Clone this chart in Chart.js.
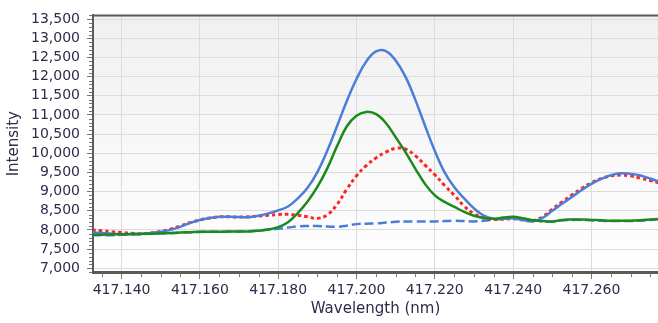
<!DOCTYPE html>
<html>
<head>
<meta charset="utf-8">
<script src="https://cdn.jsdelivr.net/npm/chart.js@4.4.0/dist/chart.umd.min.js"></script>
<style>
  html, body { margin: 0; padding: 0; background: #fff; }
  #wrap { width: 658px; height: 323px; }
</style>
</head>
<body>
<div id="wrap"><canvas id="spectrumChart" width="658" height="323"></canvas></div>
<script>
// DATA -----------------------------------------------------------------------
const wavelengths = [
    417.1325, 417.1350, 417.1375, 417.1400, 417.1425, 417.1450, 417.1475, 417.1500,
    417.1525, 417.1550, 417.1575, 417.1600, 417.1625, 417.1650, 417.1675, 417.1700,
    417.1725, 417.1750, 417.1775, 417.1800, 417.1825, 417.1850, 417.1875, 417.1900,
    417.1925, 417.1950, 417.1975, 417.2000, 417.2025, 417.2050, 417.2075, 417.2100,
    417.2125, 417.2150, 417.2175, 417.2200, 417.2225, 417.2250, 417.2275, 417.2300,
    417.2325, 417.2350, 417.2375, 417.2400, 417.2425, 417.2450, 417.2475, 417.2500,
    417.2525, 417.2550, 417.2575, 417.2600, 417.2625, 417.2650, 417.2675, 417.2700,
    417.2725, 417.2750, 417.2775
];

const blueSolid = [
    7930, 7920, 7900, 7890, 7890, 7900, 7920, 7950,
    8000, 8080, 8180, 8260, 8310, 8340, 8340, 8335,
    8330, 8370, 8430, 8510, 8610, 8820, 9100, 9510,
    10060, 10700, 11360, 11940, 12400, 12660, 12670, 12420,
    12000, 11400, 10720, 10060, 9500, 9110, 8820, 8560,
    8370, 8290, 8290, 8300, 8260, 8220, 8310, 8500,
    8680, 8860, 9040, 9200, 9330, 9430, 9480, 9460,
    9420, 9340, 9250
];

const redDotted = [
    7990, 7980, 7950, 7930, 7910, 7900, 7920, 7960,
    8020, 8100, 8190, 8260, 8310, 8340, 8340, 8335,
    8340, 8360, 8380, 8400, 8410, 8380, 8340, 8300,
    8390, 8660, 9060, 9410, 9680, 9880, 10030, 10130,
    10110, 9940, 9690, 9440, 9160, 8900, 8620, 8420,
    8310, 8270, 8280, 8290, 8260, 8240, 8340, 8540,
    8730, 8910, 9080, 9230, 9340, 9410, 9430, 9410,
    9350, 9290, 9220
];

const greenSolid = [
    7870, 7875, 7880, 7885, 7890, 7895, 7900, 7910,
    7920, 7930, 7940, 7950, 7950, 7950, 7955, 7960,
    7960, 7980, 8010, 8070, 8200, 8440, 8740, 9120,
    9600, 10180, 10700, 10980, 11080, 11020, 10790, 10420,
    10030, 9600, 9200, 8900, 8730, 8600, 8470, 8370,
    8310, 8290, 8320, 8340, 8300, 8250, 8230, 8220,
    8260, 8270, 8270, 8260, 8250, 8240, 8240, 8240,
    8250, 8270, 8290
];

const blueDashed = [
    7860, 7860, 7860, 7870, 7880, 7890, 7900, 7905,
    7915, 7925, 7935, 7945, 7950, 7950, 7955, 7960,
    7965, 7985, 8010, 8030, 8060, 8090, 8100, 8100,
    8090, 8080, 8110, 8150, 8160, 8170, 8190, 8210,
    8220, 8220, 8220, 8220, 8230, 8240, 8230, 8220,
    8240, 8270, 8300, 8320, 8300, 8260, 8220, 8220,
    8250, 8260, 8260, 8250, 8240, 8230, 8230, 8230,
    8240, 8260, 8280
];

const xTicks = [417.140, 417.160, 417.180, 417.200, 417.220, 417.240, 417.260];
const yTicks = [7000, 7500, 8000, 8500, 9000, 9500, 10000, 10500, 11000, 11500, 12000, 12500, 13000, 13500];

// CHART ----------------------------------------------------------------------
const labelColor = '#2f2b48';
const axisColor = '#5a5a5a';
const fontFamily = 'DejaVu Sans, Verdana, sans-serif';

function toPoints(values) {
    return wavelengths.map((w, i) => ({ x: w, y: values[i] }));
}

// plot background, top frame line and the small minor ticks
const plotFrame = {
    id: 'plotFrame',
    beforeDraw(chart) {
        const { ctx, chartArea: a } = chart;
        const g = ctx.createLinearGradient(0, a.top, 0, a.bottom);
        g.addColorStop(0, '#f0f0f0');
        g.addColorStop(1, '#ffffff');
        ctx.save();
        ctx.fillStyle = g;
        ctx.fillRect(a.left, a.top, a.right - a.left, a.bottom - a.top);
        ctx.restore();
    },
    afterDraw(chart) {
        const { ctx, chartArea: a } = chart;
        const xs = chart.scales.x;
        const ys = chart.scales.y;
        ctx.save();
        ctx.strokeStyle = '#777';
        ctx.lineWidth = 1;
        ctx.beginPath();
        for (let v = Math.ceil(ys.min / 100) * 100; v <= ys.max; v += 100) {
            if (v % 500 === 0) continue;
            const py = Math.round(ys.getPixelForValue(v)) + 0.5;
            ctx.moveTo(a.left - 4, py);
            ctx.lineTo(a.left - 1, py);
        }
        for (let k = Math.ceil(xs.min / 0.005); k * 0.005 <= xs.max; k++) {
            if (k % 4 === 0) continue;
            const px = Math.round(xs.getPixelForValue(k * 0.005)) + 0.5;
            ctx.moveTo(px, a.bottom + 1);
            ctx.lineTo(px, a.bottom + 5);
        }
        ctx.stroke();

        ctx.strokeStyle = axisColor;
        ctx.lineWidth = 2;
        ctx.beginPath();
        ctx.moveTo(a.left, a.top);
        ctx.lineTo(a.right, a.top);
        ctx.stroke();
        ctx.restore();
    }
};

document.addEventListener('DOMContentLoaded', () => {
    const ctx = document.getElementById('spectrumChart').getContext('2d');

    new Chart(ctx, {
        type: 'line',
        data: {
            datasets: [
                {
                    label: 'Green',
                    data: toPoints(greenSolid),
                    borderColor: '#1b8a1b',
                    borderWidth: 2.5
                },
                {
                    label: 'Blue',
                    data: toPoints(blueSolid),
                    borderColor: '#4a7ed8',
                    borderWidth: 2.5
                },
                {
                    label: 'Red',
                    data: toPoints(redDotted),
                    borderColor: '#ff2424',
                    borderWidth: 3,
                    borderDash: [3.5, 3]
                },
                {
                    label: 'Blue dashed',
                    data: toPoints(blueDashed),
                    borderColor: '#4a7ed8',
                    borderWidth: 2.5,
                    borderDash: [9, 4]
                }
            ]
        },
        options: {
            responsive: false,
            animation: false,
            devicePixelRatio: 1,
            layout: { padding: { top: 10, right: 0, bottom: 0, left: 0 } },
            elements: {
                point: { radius: 0 },
                line: { tension: 0.4, fill: false }
            },
            plugins: {
                legend: { display: false },
                tooltip: { enabled: false }
            },
            scales: {
                x: {
                    type: 'linear',
                    min: 417.1327,
                    max: 417.2770,
                    afterBuildTicks: scale => { scale.ticks = xTicks.map(v => ({ value: v })); },
                    afterFit: scale => { scale.height = 51; },
                    ticks: {
                        autoSkip: false,
                        maxRotation: 0,
                        padding: 3,
                        color: labelColor,
                        font: { family: fontFamily, size: 14 },
                        callback: v => Number(v).toFixed(3)
                    },
                    grid: { color: '#dcdcdc', tickColor: '#777', tickLength: 7 },
                    border: { color: axisColor, width: 3 },
                    title: {
                        display: true,
                        text: 'Wavelength (nm)',
                        color: labelColor,
                        font: { family: fontFamily, size: 15 },
                        padding: { top: 0, bottom: 5 }
                    }
                },
                y: {
                    min: 6900,
                    max: 13600,
                    afterBuildTicks: scale => { scale.ticks = yTicks.map(v => ({ value: v })); },
                    afterFit: scale => { scale.width = 93; },
                    ticks: {
                        autoSkip: false,
                        padding: 7,
                        color: labelColor,
                        font: { family: fontFamily, size: 14 },
                        callback: v => Number(v).toLocaleString('en-US')
                    },
                    grid: { color: '#dcdcdc', tickColor: '#777', tickLength: 6 },
                    border: { color: axisColor, width: 2 },
                    title: {
                        display: true,
                        text: 'Intensity',
                        color: labelColor,
                        font: { family: fontFamily, size: 15 },
                        padding: { top: 5, bottom: 0 }
                    }
                }
            }
        },
        plugins: [plotFrame]
    });
});
</script>
</body>
</html>
